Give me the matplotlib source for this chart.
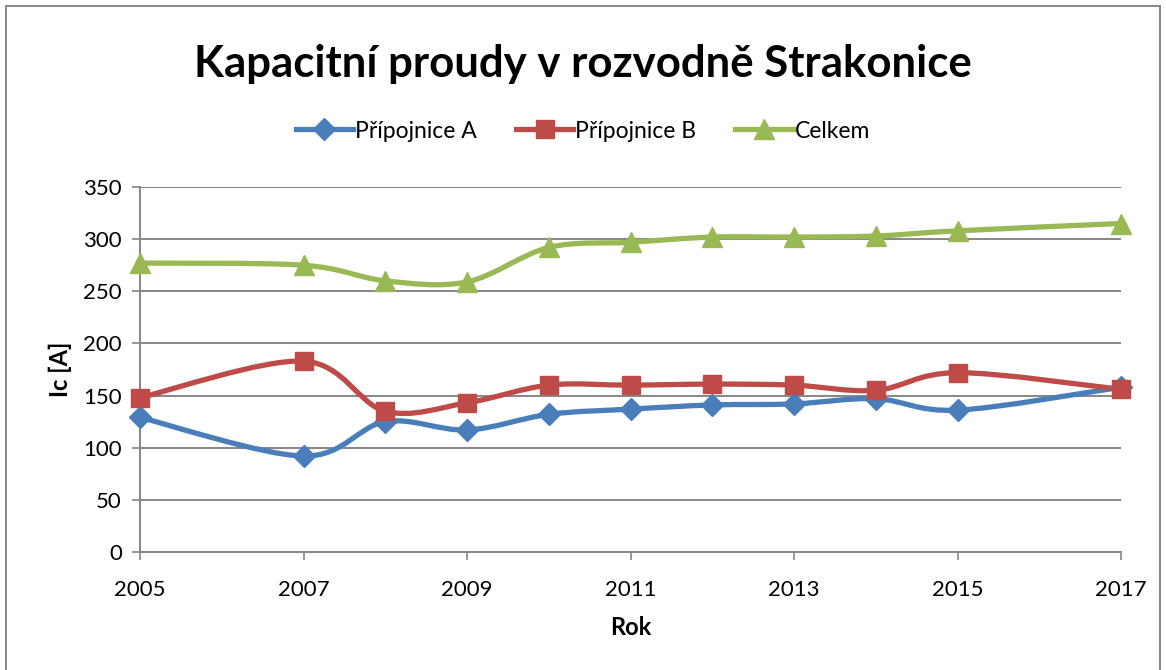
import numpy as np
import matplotlib.pyplot as plt
from matplotlib.path import Path
from matplotlib.patches import PathPatch, Rectangle
from matplotlib.lines import Line2D

plt.rcParams['font.family'] = ['Lato', 'DejaVu Sans']

# data
roky = [2005, 2007, 2008, 2009, 2010, 2011, 2012, 2013, 2014, 2015, 2017]
prip_a = [129, 92, 125, 117, 132, 137, 141, 142, 147, 136, 158]
prip_b = [148, 183, 135, 143, 160, 160, 161, 160, 155, 172, 156]
celkem = [277, 275, 260, 259, 292, 297, 302, 302, 303, 308, 315]
nazvy = ['Přípojnice A', 'Přípojnice B', 'Celkem']
barvy = ['#4A7EBB', '#BE4B48', '#98B954']
znacky = ['D', 's', '^']
velikosti = [11, 13, 14]


def smooth_path(x, y):
    # Excel-like smoothed line: cubic bezier, catmull-rom control points
    x = np.asarray(x, float)
    y = np.asarray(y, float)
    p = np.column_stack([x, y])
    n = len(p)
    verts = [p[0]]
    codes = [Path.MOVETO]
    for i in range(n - 1):
        p0 = p[i - 1] if i > 0 else p[i]
        p3 = p[i + 2] if i + 2 < n else p[i + 1]
        c1 = p[i] + (p[i + 1] - p0) / 6.0
        c2 = p[i + 1] - (p3 - p[i]) / 6.0
        verts += [c1, c2, p[i + 1]]
        codes += [Path.CURVE4] * 3
    return Path(verts, codes)


fig = plt.figure(figsize=(11.66, 6.70), dpi=100)
ax = fig.add_axes([140 / 1166, 1 - 552 / 670, 981 / 1166, 365 / 670])

for serie, barva, zn, ms in zip([prip_a, prip_b, celkem], barvy, znacky, velikosti):
    ax.add_patch(PathPatch(smooth_path(roky, serie), fill=False, edgecolor=barva,
                           lw=3.8, capstyle='round', joinstyle='round', zorder=3))
    ax.plot(roky, serie, linestyle='none', marker=zn, markersize=ms, color=barva,
            markeredgecolor=barva, zorder=4, clip_on=False)

ax.set_xlim(2005, 2017)
ax.set_ylim(0, 350)
ax.set_yticks(np.arange(0, 351, 50))
ax.set_xticks(np.arange(2005, 2018, 2))
ax.grid(axis='y', color='#868686', lw=1.4)
ax.set_axisbelow(True)
for s in ['top', 'right']:
    ax.spines[s].set_visible(False)
for s in ['left', 'bottom']:
    ax.spines[s].set_color('#868686')
    ax.spines[s].set_linewidth(1.4)
ax.tick_params(axis='both', direction='out', length=6, width=1.2, color='#868686',
               labelsize=16)
ax.tick_params(axis='x', pad=14)
ax.tick_params(axis='y', pad=7)
ax.set_xlabel('Rok', fontsize=17, fontweight='bold', labelpad=12)
ax.set_ylabel('Ic [A]', fontsize=17, fontweight='bold', labelpad=8)

fig.text(0.5, 1 - 64 / 670, 'Kapacitní proudy v rozvodně Strakonice', ha='center', va='center',
         fontsize=31.5, fontweight='bold')

handles = [Line2D([], [], color=b, lw=3.8, marker=z, markersize=m)
           for b, z, m in zip(barvy, znacky, velikosti)]
fig.legend(handles, nazvy, loc='center', bbox_to_anchor=(0.5, 1 - 131 / 670), ncol=3,
           frameon=False, fontsize=16.5, handlelength=2.5, handletextpad=0.1, columnspacing=1.7)

fig.patches.append(Rectangle((6 / 1166, -0.01), 1154 / 1166, 1 - 6 / 670 + 0.01,
                             transform=fig.transFigure, fill=False, edgecolor='#868686',
                             lw=1.4))

fig.savefig('out.png', dpi=100)
